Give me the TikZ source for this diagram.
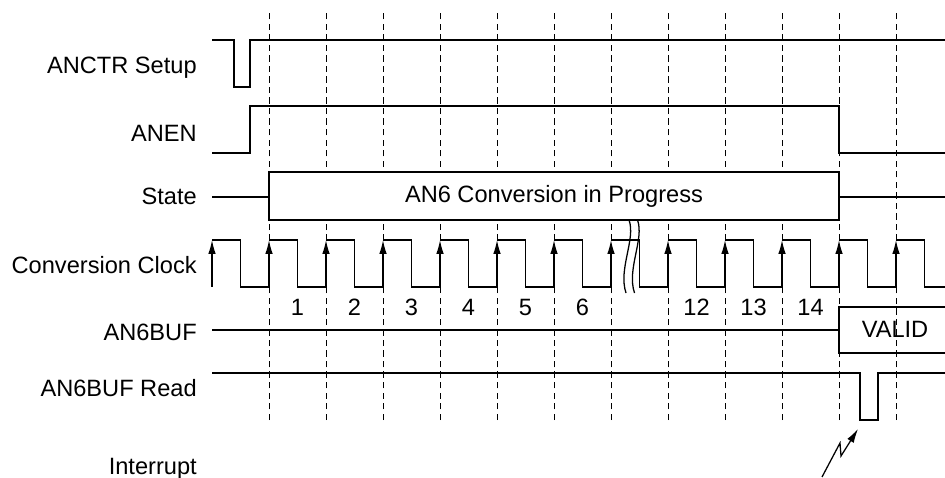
\documentclass[tikz,border=0pt]{standalone}
\usepackage{fontspec}
\setmainfont{Liberation Sans}
\usetikzlibrary{arrows.meta, positioning}

\begin{document}
\begin{tikzpicture}[
    every node/.style={font=\fontsize{16.8}{20}\selectfont},
    sig name/.style={anchor=base east, inner sep=0pt},
    signal/.style={line width=0.9pt},
    grid line/.style={dashed, line width=0.7pt, dash pattern=on 4.5pt off 3pt},
    arrow/.style={->, line width=0.9pt, >={Latex[length=3.5mm, width=1.9mm]}}
    ]

    \clip (0,0) rectangle (23.625,11.925);

    % 信号名
    \node[sig name] (ANCTR) at (4.925,10.075) {ANCTR Setup};
    \node[sig name] (ANEN) at (4.925,8.375) {ANEN};
    \node[sig name] (STATE) at (4.925,6.8) {State};
    \node[sig name] (CLK) at (4.925,5.075) {Conversion Clock};
    \node[sig name] (BUF) at (4.925,3.4) {AN6BUF};
    \node[sig name] (READ) at (4.925,2.0) {AN6BUF Read};
    \node[sig name] (INT) at (4.925,0.075) {Interrupt};

    % 点線
    \foreach \i [evaluate=\i as \x using 6.725+1.425*\i] in {0,...,11}
        \draw[grid line] (\x,1.425) -- (\x,11.625);

    % ANCTR Setup, ANEN
    \draw[signal] (5.3,10.925) -- (5.85,10.925) -- (5.85,9.75) -- (6.25,9.75) -- (6.25,10.925) -- (23.625,10.925);
    \draw[signal] (5.3,8.1) -- (6.25,8.1) -- (6.25,9.275) -- (20.975,9.275) -- (20.975,8.1) -- (23.625,8.1);

    % State
    \draw[signal] (5.3,7.0) -- (6.725,7.0);
    \draw[signal] (20.975,7.0) -- (23.625,7.0);
    \node[draw, signal, fill=white, minimum width=14.25cm, minimum height=1.2cm] (CONV) at (13.85,7.025) {AN6 Conversion in Progress};

    % Conversion Clock
    \foreach \i [evaluate=\i as \x using 5.3+1.425*\i] in {0,...,12} {
        \draw[arrow] (\x,4.75) -- (\x,5.925);
        \draw[signal] (\x,5.925) -- ++(0.7125,0) -- ++(0,-1.175) -- ++(0.7125,0);
    }
    \draw[signal] (15.725,6.425) .. controls (15.9,5.95) and (15.45,5.2) .. (15.65,4.6);
    \draw[signal] (15.9375,6.425) .. controls (16.1125,5.95) and (15.6625,5.2) .. (15.8625,4.6);

    \foreach \n/\i in {1/0, 2/1, 3/2, 4/3, 5/4, 6/5, 12/7, 13/8, 14/9}
        \node (N\n) at (7.4375+1.425*\i,4.25) {\n};

    % AN6BUF
    \draw[signal] (5.3,3.675) -- (20.975,3.675);
    \draw[signal] (23.7,4.25) -- (20.975,4.25) -- (20.975,3.1) -- (23.7,3.1);
    \node (VALID) at (22.375,3.7) {VALID};

    % AN6BUF Read
    \draw[signal] (5.3,2.6) -- (21.5,2.6) -- (21.5,1.425) -- (21.95,1.425) -- (21.95,2.6) -- (23.625,2.6);

    % Interrupt
    \draw[arrow] (20.55,0) -- (21.0,0.85) -- (21.025,0.525) -- (21.45,1.2);

\end{tikzpicture}
\end{document}
